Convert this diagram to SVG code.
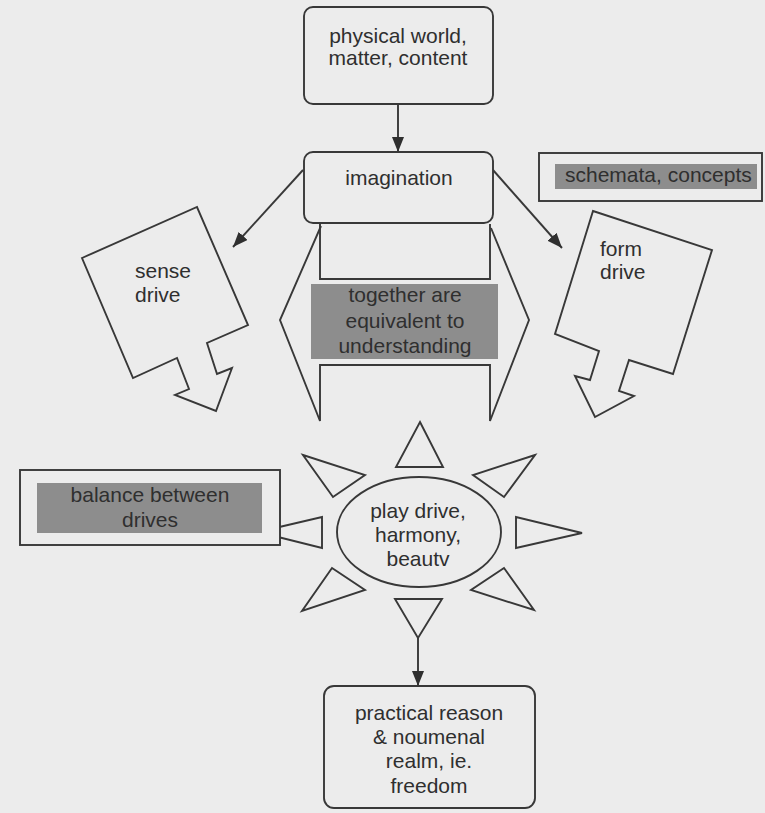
<svg xmlns="http://www.w3.org/2000/svg" width="765" height="813" viewBox="0 0 765 813">
<style>
.ln{fill:none;stroke:#383838;stroke-width:1.9;stroke-linejoin:miter}
.bx{fill:#ececec;stroke:#383838;stroke-width:1.9}
.lbl{fill:#8d8d8d}
text{font-family:"Liberation Sans",Arial,sans-serif;font-size:21px;fill:#2f2f2f}
.c{text-anchor:middle}
</style>
<defs>
<marker id="ah" viewBox="0 0 15 12" refX="15" refY="6" markerWidth="15" markerHeight="12" markerUnits="userSpaceOnUse" orient="auto">
<path d="M0,0 L15,6 L0,12 Z" fill="#2f2f2f"/>
</marker>
</defs>
<rect width="765" height="813" fill="#ececec"/>

<g id="connectors">
<line class="ln" x1="398" y1="104" x2="398" y2="152" marker-end="url(#ah)"/>
<line class="ln" x1="303" y1="170" x2="233" y2="247" marker-end="url(#ah)"/>
<line class="ln" x1="493" y1="170" x2="562" y2="248" marker-end="url(#ah)"/>
<line class="ln" x1="418" y1="638" x2="418" y2="686" marker-end="url(#ah)"/>
</g>

<g id="physical-world">
<rect class="bx" x="304" y="7" width="189" height="97" rx="9"/>
<text class="c" x="398" y="43">physical world,</text>
<text class="c" x="398" y="65">matter, content</text>
</g>

<g id="understanding">
<path class="ln" d="M321,226 L280,320 L320,421 L320,365 L490,365 L490,421 L529,320 L491,228"/>
<path class="ln" d="M320,224 L320,279 L490,279 L490,224"/>
<rect class="lbl" x="311" y="284" width="187" height="75"/>
<text class="c" x="405" y="302">together are</text>
<text class="c" x="405" y="328">equivalent to</text>
<text class="c" x="405" y="353">understanding</text>
</g>

<g id="imagination">
<rect class="bx" x="304" y="152" width="189" height="71" rx="9"/>
<text class="c" x="399" y="185">imagination</text>
</g>

<g id="sense-drive">
<path class="ln" d="M82,258 L197,207 L248,325 L207,343 L217,374 L232,368 L216,411 L175,395 L189,389 L177,358 L133,378 Z"/>
<text x="135" y="278">sense</text>
<text x="135" y="302">drive</text>
</g>

<g id="form-drive">
<path class="ln" d="M593,211 L712,250 L673,374 L629,360 L619,391 L634,396 L595,417 L575,376 L590,380 L599,351 L555,334 Z"/>
<text x="600" y="256">form</text>
<text x="600" y="279">drive</text>
</g>

<g id="schemata">
<rect class="bx" x="539" y="153" width="223" height="48"/>
<rect class="lbl" x="555" y="164" width="202" height="25"/>
<text x="565" y="182">schemata, concepts</text>
</g>

<g id="play-drive">
<path class="ln" d="M420,422 L443,467 L396,467 Z"/>
<path class="ln" d="M303,455 L365,475 L333,497 Z"/>
<path class="ln" d="M535,455 L473,475 L504,497 Z"/>
<path class="ln" d="M258,532 L322,517 L322,548 Z"/>
<path class="ln" d="M582,533 L516,517 L516,548 Z"/>
<path class="ln" d="M332,568 L365,590 L302,611 Z"/>
<path class="ln" d="M504,568 L471,590 L534,610 Z"/>
<path class="ln" d="M395,599 L442,599 L418,638 Z"/>
<ellipse class="bx" cx="419" cy="532" rx="82" ry="55"/>
<text class="c" x="418" y="518">play drive,</text>
<text class="c" x="418" y="542">harmony,</text>
<text class="c" x="418" y="566">beautv</text>
</g>

<g id="balance">
<rect class="bx" x="20" y="470" width="260" height="75"/>
<rect class="lbl" x="37" y="483" width="225" height="50"/>
<text class="c" x="150" y="502">balance between</text>
<text class="c" x="150" y="527">drives</text>
</g>

<g id="practical-reason">
<rect class="bx" x="324" y="686" width="211" height="122" rx="10"/>
<text class="c" x="429" y="720">practical reason</text>
<text class="c" x="429" y="744">&amp; noumenal</text>
<text class="c" x="429" y="768">realm, ie.</text>
<text class="c" x="429" y="793">freedom</text>
</g>
</svg>
